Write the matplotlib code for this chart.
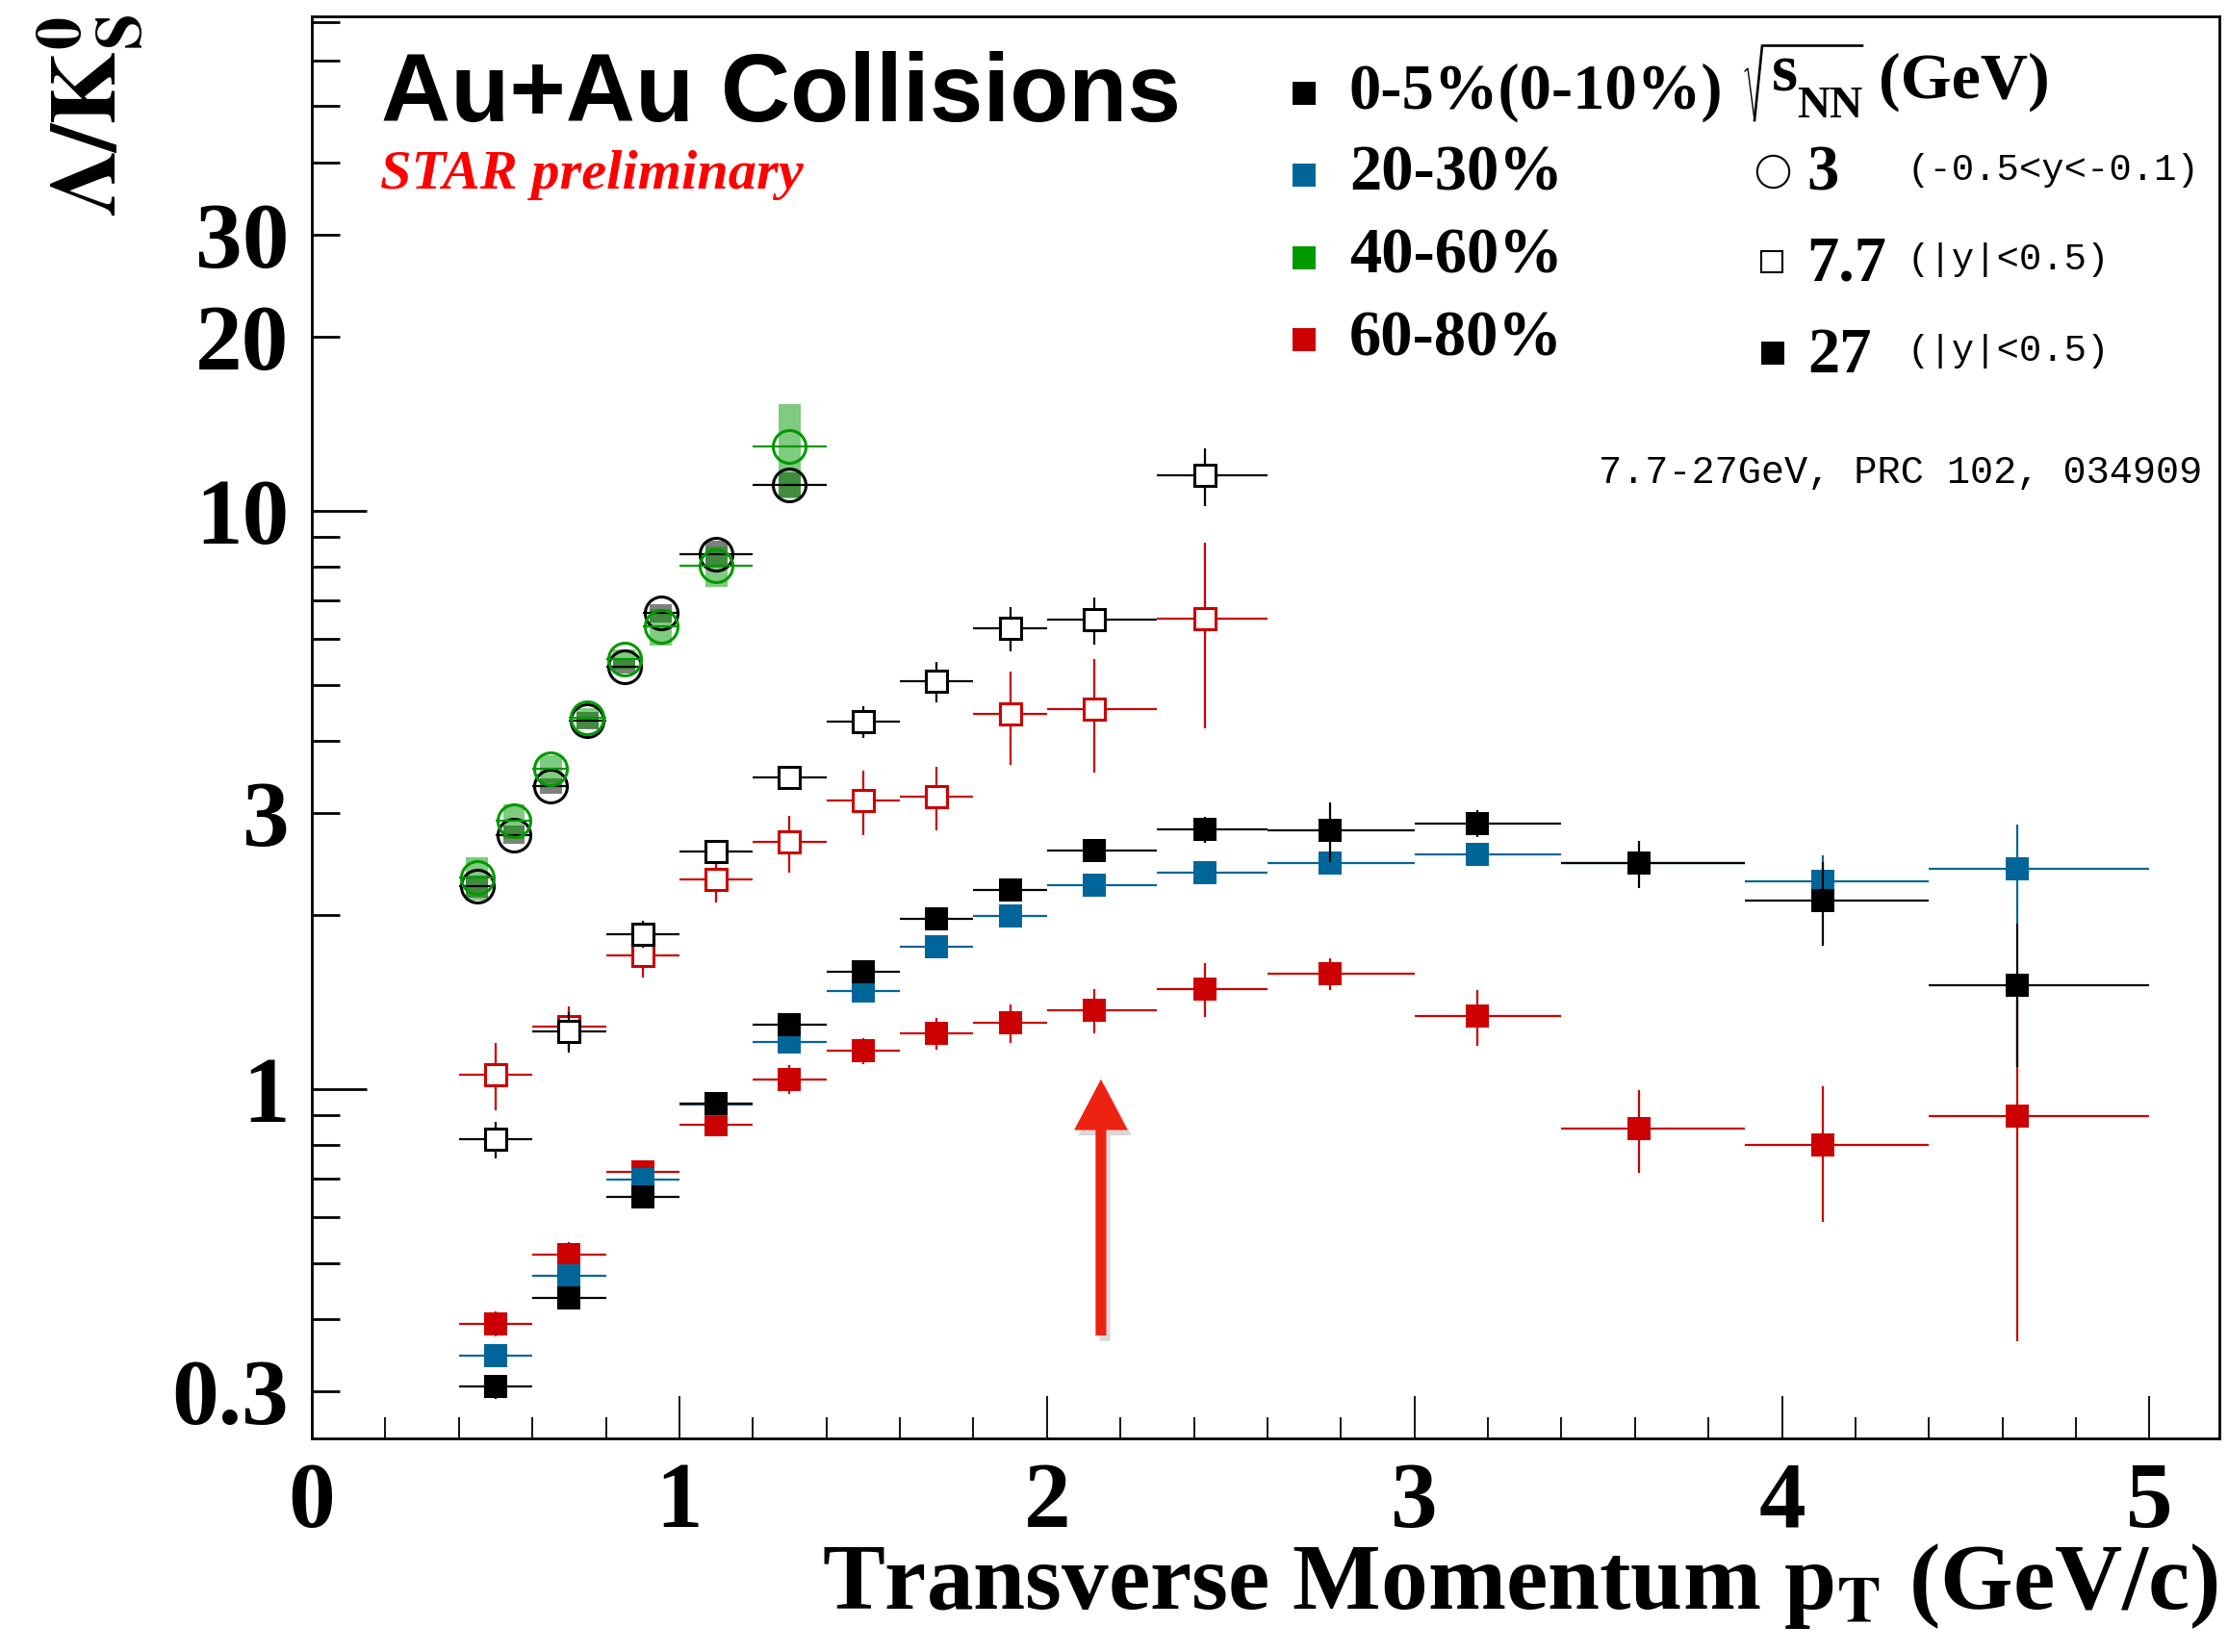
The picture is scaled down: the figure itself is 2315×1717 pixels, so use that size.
import matplotlib
matplotlib.use('Agg')
import matplotlib.pyplot as plt
import numpy as np
from matplotlib.ticker import FixedLocator, FuncFormatter
import matplotlib.patheffects as pe
from matplotlib.lines import Line2D

W, H, DPI = 2315, 1717, 100
plt.rcParams['mathtext.fontset'] = 'stix'
plt.rcParams['font.family'] = ['Liberation Serif', 'DejaVu Serif']
plt.rcParams['font.weight'] = 'bold'

# ---------------- data ----------------
# 3 GeV (open circles), 0-10% (black) and 40-60% (green)
pt_3 = [0.45, 0.55, 0.65, 0.75, 0.85, 0.95, 1.1, 1.3]
pt_3_halfbin = [0.05, 0.05, 0.05, 0.05, 0.05, 0.05, 0.1, 0.1]
r3_central = [2.24, 2.75, 3.34, 4.33, 5.37, 6.65, 8.42, 11.08]
r3_central_sys = [0.10, 0.10, 0.10, 0.15, 0.14, 0.25, 0.45, 0.55]
r3_4060 = [2.32, 2.91, 3.58, 4.38, 5.53, 6.30, 8.03, 12.9]
r3_4060_sys = [0.20, 0.20, 0.20, 0.18, 0.22, 0.45, 0.65, 2.4]

# 7.7 GeV (open squares), 0-5% (black) and 60-80% (red)
pt_77 = [0.5, 0.7, 0.9, 1.1, 1.3, 1.5, 1.7, 1.9, 2.13, 2.43]
pt_77_lo = [0.4, 0.6, 0.8, 1.0, 1.2, 1.4, 1.6, 1.8, 2.0, 2.3]
pt_77_hi = [0.6, 0.8, 1.0, 1.2, 1.4, 1.6, 1.8, 2.0, 2.3, 2.6]
r77_central = [0.818, 1.258, 1.853, 2.57, 3.46, 4.32, 5.07, 6.27, 6.47, 11.5]
r77_central_err = [0.06, 0.10, 0.10, 0.12, 0.15, 0.27, 0.40, 0.55, 0.60, 1.3]
r77_6080 = [1.06, 1.28, 1.70, 2.30, 2.67, 3.15, 3.20, 4.45, 4.53, 6.50]
r77_6080_err = [0.14, 0.11, 0.14, 0.20, 0.30, 0.40, 0.40, 0.82, 1.0, 2.3]

# 27 GeV (filled squares), 0-5% (black), 20-30% (blue), 60-80% (red)
pt_27 = [0.5, 0.7, 0.9, 1.1, 1.3, 1.5, 1.7, 1.9, 2.13, 2.43, 2.77, 3.17, 3.61, 4.11, 4.64]
pt_27_lo = [0.4, 0.6, 0.8, 1.0, 1.2, 1.4, 1.6, 1.8, 2.0, 2.3, 2.6, 3.0, 3.4, 3.9, 4.4]
pt_27_hi = [0.6, 0.8, 1.0, 1.2, 1.4, 1.6, 1.8, 2.0, 2.3, 2.6, 3.0, 3.4, 3.9, 4.4, 5.0]
r27_central = [0.306, 0.436, 0.652, 0.945, 1.29, 1.595, 1.97, 2.21, 2.58, 2.81, 2.80, 2.88, 2.46, 2.12, 1.51]
r27_central_err = [0.015, 0.02, 0.02, 0.03, 0.04, 0.05, 0.06, 0.07, 0.10, 0.15, 0.33, 0.15, 0.23, 0.35, 0.42]
r27_2030 = [0.346, 0.476, 0.698, 0.94, 1.205, 1.48, 1.76, 1.99, 2.25, 2.37, 2.46, 2.55, 2.46, 2.29, 2.40]
r27_2030_err = [0.015, 0.02, 0.02, 0.03, 0.03, 0.04, 0.05, 0.06, 0.07, 0.08, 0.10, 0.10, 0.12, 0.25, 0.47]
r27_6080 = [0.393, 0.518, 0.72, 0.868, 1.04, 1.166, 1.249, 1.30, 1.37, 1.49, 1.585, 1.336, 0.856, 0.80, 0.897]
r27_6080_err = [0.02, 0.025, 0.03, 0.04, 0.06, 0.06, 0.08, 0.10, 0.12, 0.16, 0.10, 0.15, 0.14, 0.21, 0.53]

arrow_pt = 2.147
arrow_from, arrow_to = 0.375, 1.04

xticks_major = [0, 1, 2, 3, 4, 5]
yticks_major = [1, 10]
ylabels = {0.3: '0.3', 1: '1', 3: '3', 10: '10', 20: '20', 30: '30'}

# ---------------- colours ----------------
BLACK, BLUE, GREEN, RED = '#000000', '#006699', '#009900', '#cc0000'

fig = plt.figure(figsize=(W / DPI, H / DPI), dpi=DPI)
ax = fig.add_axes([324 / W, 1 - 1495 / H, (2306 - 324) / W, (1495 - 17) / H])
ax.set_yscale('log')
ax.set_xlim(0, 5.19)
ax.set_ylim(0.249, 71.5)


def xerr_from(x, lo, hi):
    x = np.asarray(x)
    return [x - np.asarray(lo), np.asarray(hi) - x]


# systematic boxes for 3 GeV
y = np.asarray(r3_central); s = np.asarray(r3_central_sys)
ax.bar(pt_3, 2 * s, bottom=y - s, width=0.06, color='black', alpha=0.5, linewidth=0, zorder=2)
y = np.asarray(r3_4060); s = np.asarray(r3_4060_sys)
ax.bar(pt_3, 2 * s, bottom=y - s, width=0.06, color=GREEN, alpha=0.5, linewidth=0, zorder=2.1)

eb = dict(capsize=0, elinewidth=1.6, linestyle='none')
# 27 GeV filled squares
ax.errorbar(pt_27, r27_6080, xerr=xerr_from(pt_27, pt_27_lo, pt_27_hi), yerr=r27_6080_err,
            fmt='s', color=RED, ms=17, mew=0, zorder=3, **eb)
ax.errorbar(pt_27, r27_2030, xerr=xerr_from(pt_27, pt_27_lo, pt_27_hi), yerr=r27_2030_err,
            fmt='s', color=BLUE, ms=17, mew=0, zorder=4, **eb)
ax.errorbar(pt_27, r27_central, xerr=xerr_from(pt_27, pt_27_lo, pt_27_hi), yerr=r27_central_err,
            fmt='s', color=BLACK, ms=17, mew=0, zorder=5, **eb)
# 7.7 GeV open squares
ax.errorbar(pt_77, r77_6080, xerr=xerr_from(pt_77, pt_77_lo, pt_77_hi), yerr=r77_6080_err,
            fmt='s', color=RED, mfc='white', mec=RED, ms=16.5, mew=2.2, zorder=6, **eb)
ax.errorbar(pt_77, r77_central, xerr=xerr_from(pt_77, pt_77_lo, pt_77_hi), yerr=r77_central_err,
            fmt='s', color=BLACK, mfc='white', mec=BLACK, ms=16.5, mew=2.2, zorder=7, **eb)
# 3 GeV open circles
ax.errorbar(pt_3, r3_central, xerr=pt_3_halfbin, fmt='o', color=BLACK, mfc='none',
            ms=24.5, mew=2.2, zorder=8, **eb)
ax.errorbar(pt_3, r3_4060, xerr=pt_3_halfbin, fmt='o', color=GREEN, mfc='none',
            ms=24.5, mew=2.2, zorder=9, **eb)

# arrow
ann = ax.annotate('', xy=(arrow_pt, arrow_to), xytext=(arrow_pt, arrow_from),
                  arrowprops=dict(arrowstyle='simple,head_length=0.95,head_width=1.0,tail_width=0.2',
                                  mutation_scale=40, fc='#ee2211', ec='#ee2211', lw=0,
                                  shrinkA=0, shrinkB=0), zorder=10)
ann.arrow_patch.set_path_effects([pe.SimplePatchShadow(offset=(3, -4), shadow_rgbFace='0.4', alpha=0.25),
                                  pe.Normal()])

# axes styling
for sp in ax.spines.values():
    sp.set_linewidth(2)
ax.xaxis.set_major_locator(FixedLocator(xticks_major))
ax.xaxis.set_minor_locator(FixedLocator([round(v, 1) for v in np.arange(0.2, 5.2, 0.2)
                                         if abs(v - round(v)) > 1e-6]))
ax.xaxis.set_major_formatter(FuncFormatter(lambda v, p: '%d' % round(v)))
ax.yaxis.set_major_locator(FixedLocator(yticks_major))
yminor = [0.3, 0.4, 0.5, 0.6, 0.7, 0.8, 0.9, 2, 3, 4, 5, 6, 7, 8, 9, 20, 30, 40, 50, 60, 70]
ax.yaxis.set_minor_locator(FixedLocator(yminor))


def yfmt(v, p):
    for k, s in ylabels.items():
        if abs(v - k) < 1e-6 * k:
            return s
    return ''


ax.yaxis.set_major_formatter(FuncFormatter(yfmt))
ax.yaxis.set_minor_formatter(FuncFormatter(yfmt))
ax.tick_params(axis='x', which='major', direction='in', length=32, width=1.3, labelsize=70, pad=17,
               top=False)
ax.tick_params(axis='x', which='minor', direction='in', length=16, width=1.3, top=False)
ax.tick_params(axis='y', which='major', direction='in', length=41, width=2, labelsize=70, pad=17,
               right=False)
ax.tick_params(axis='y', which='minor', direction='in', length=21, width=2, labelsize=70, pad=17,
               right=False)


def ftext(x, y, s, **kw):
    return fig.text(x / W, 1 - y / H, s, **kw)


def fmark(x, y, **kw):
    fig.add_artist(Line2D([x / W], [1 - y / H], transform=fig.transFigure, linestyle='none', **kw))


def fline(xs, ys, **kw):
    fig.add_artist(Line2D([v / W for v in xs], [1 - v / H for v in ys], transform=fig.transFigure, **kw))


# labels
ftext(93, 15, r'$\mathbf{\Lambda}/\mathbf{K}^{\mathbf{0}}_{\mathbf{S}}$', rotation=90,
      ha='center', va='top', fontsize=70)
ftext(2305, 1672, r'Transverse Momentum p$_{\mathbf{T}}$ (GeV/c)', ha='right', va='baseline',
      fontsize=70, fontweight='bold')
ftext(396, 126, 'Au+Au Collisions', family='Liberation Sans', fontweight='bold', fontsize=72,
      ha='left', va='baseline')
ftext(395, 196, 'STAR preliminary', fontstyle='italic', fontweight='bold', fontsize=42,
      color='#ff0000', ha='left', va='baseline')

# legend
cent_labels = ['0-5%(0-10%)', '20-30%', '40-60%', '60-80%']
cent_colors = [BLACK, BLUE, GREEN, RED]
rows_mark = [96.7, 182, 267.7, 353]
rows_base = [113, 198, 284, 370]
for lab, col, ym, yb in zip(cent_labels, cent_colors, rows_mark, rows_base):
    fmark(1355, ym, marker='s', ms=17, mfc=col, mec=col, mew=0)
    ftext(1402, yb, lab, fontsize=48, fontweight='bold', ha='left', va='baseline')

# sqrt(s_NN) (GeV)
fline([1813, 1816, 1823], [74, 71, 125], color='black', lw=1.0, solid_joinstyle='miter')
fline([1823, 1831, 1935], [125, 47.5, 47.5], color='black', lw=1.9, solid_joinstyle='miter')
ftext(1841, 93.3, 's', fontsize=50, fontweight='bold', ha='left', va='baseline')
ftext(1867, 121.7, 'NN', fontsize=34, fontweight='bold', ha='left', va='baseline')
ftext(1952, 101.7, '(GeV)', fontsize=49, fontweight='bold', ha='left', va='baseline')

fmark(1842, 177.5, marker='o', ms=24, mfc='none', mec='black', mew=1.5)
fmark(1841, 272, marker='s', ms=16, mfc='white', mec='black', mew=1.5)
fmark(1842, 366.7, marker='s', ms=17, mfc='black', mec='black', mew=0)
ftext(1877, 198, '3', fontsize=48, fontweight='bold', ha='left', va='baseline')
ftext(1877, 291.7, '7.7', fontsize=48, fontweight='bold', ha='left', va='baseline')
ftext(1878, 386.7, '27', fontsize=48, fontweight='bold', ha='left', va='baseline')
mono = dict(family='Liberation Mono', fontweight='normal', ha='left', va='baseline')
ftext(1982, 187, '(-0.5<y<-0.1)', fontsize=28, **mono)
ftext(1982, 280, '(|y|<0.5)', fontsize=28, **mono)
ftext(1982, 375, '(|y|<0.5)', fontsize=28, **mono)
ftext(2288, 501.7, '7.7-27GeV, PRC 102, 034909', fontsize=29, family='Liberation Mono',
      fontweight='normal', ha='right', va='baseline')

fig.savefig('out.png', dpi=DPI)
